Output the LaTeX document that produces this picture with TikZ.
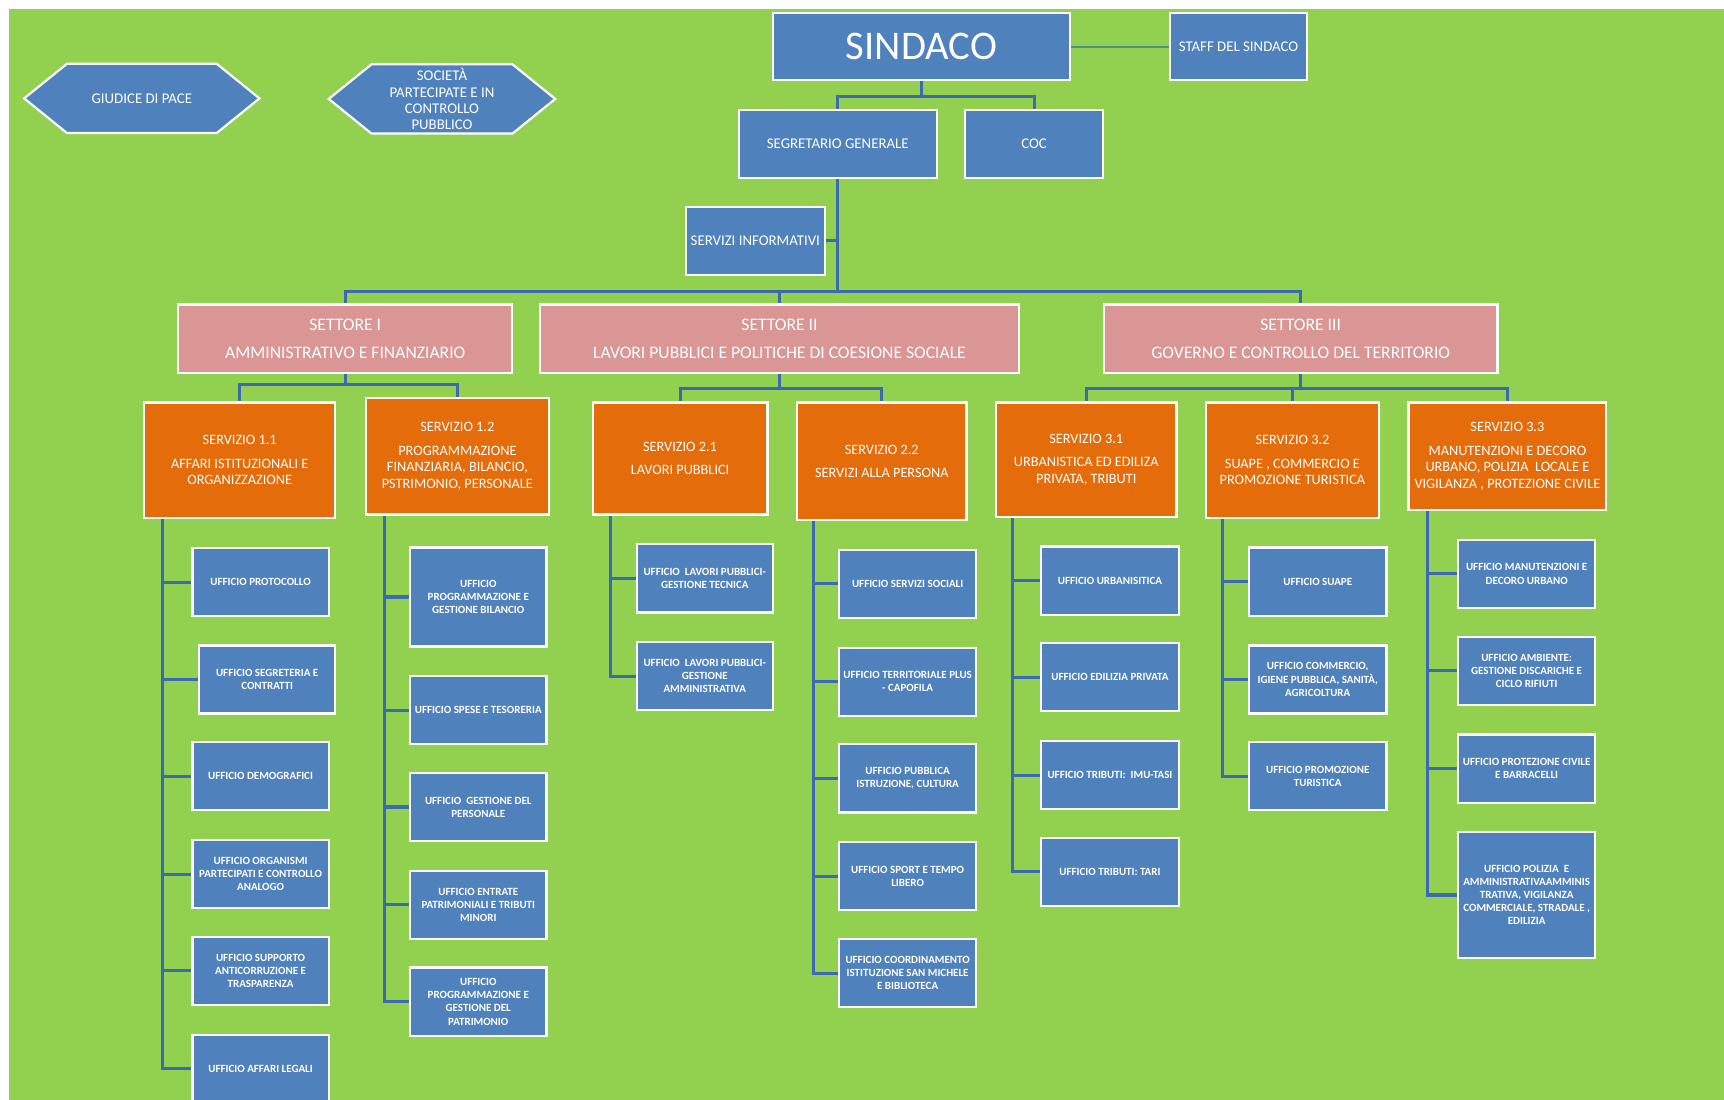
\documentclass[tikz,border=0pt]{standalone}
\usepackage{fontspec}
\setmainfont{Carlito}
\usepackage{tikz}
\usetikzlibrary{shapes.symbols}

\definecolor{bggreen}{RGB}{146,208,80}
\definecolor{ublue}{RGB}{79,129,189}
\definecolor{spink}{RGB}{217,150,148}
\definecolor{sorange}{RGB}{228,108,10}
\definecolor{cblue}{RGB}{62,104,178}
\definecolor{staffline}{RGB}{84,140,150}

\pgfdeclarelayer{sfondo}
\pgfdeclarelayer{linee}
\pgfsetlayers{sfondo,linee,main}

\tikzset{
  box/.style={draw=white, line width=2pt, fill=ublue, text=white, align=center, inner sep=0.5pt},
  topbox/.style={box, font=\fontsize{13.5}{14.7}\selectfont},
  hexa/.style={topbox, shape=signal, signal to=west and east, signal pointer angle=78},
  sett/.style={box, fill=spink, minimum height=62, font=\fontsize{16}{25}\selectfont},
  serv/.style={box, fill=sorange, font=\fontsize{13}{15}\selectfont},
  uff/.style={box, minimum width=124, minimum height=62, font=\fontsize{10}{12}\selectfont\bfseries},
  conn/.style={draw=cblue, line width=2.8pt},
}

\begin{document}
\begin{tikzpicture}[x=1pt,y=-1pt]
\useasboundingbox (0,0) rectangle (1568,1000);
\begin{pgfonlayer}{sfondo}
\fill[white] (0,0) rectangle (1568,1000);
\fill[bggreen] (8,8) rectangle (1568,1000);
\end{pgfonlayer}

% Vertice
\node[hexa, minimum width=214, minimum height=63] (giudice) at (129,89.5) {GIUDICE DI PACE};
\node[hexa, minimum width=206, minimum height=63] (societa) at (402,90) {SOCIETÀ\\PARTECIPATE E IN\\CONTROLLO\\PUBBLICO};
\node[box, minimum width=270, minimum height=61, font=\fontsize{37}{40}\selectfont] (sindaco) at (838,42.5) {SINDACO};
\node[topbox, minimum width=125, minimum height=61] (staff) at (1126.5,42.5) {STAFF DEL SINDACO};
\node[topbox, minimum width=180, minimum height=62] (segretario) at (762,131) {SEGRETARIO GENERALE};
\node[topbox, minimum width=125, minimum height=62] (coc) at (940.5,131) {COC};
\node[topbox, minimum width=126, minimum height=62] (informativi) at (687,219) {SERVIZI INFORMATIVI};

% Settori
\node[sett, minimum width=304] (set1) at (314,308) {SETTORE I\\AMMINISTRATIVO E FINANZIARIO};
\node[sett, minimum width=436] (set2) at (709,308) {SETTORE II\\LAVORI PUBBLICI E POLITICHE DI COESIONE SOCIALE};
\node[sett, minimum width=358] (set3) at (1183,308) {SETTORE III\\GOVERNO E CONTROLLO DEL TERRITORIO};

% Servizi
\node[serv, minimum width=174, minimum height=105] (s11) at (218,418.5) {SERVIZIO 1.1\\[6pt]AFFARI ISTITUZIONALI E\\ORGANIZZAZIONE};
\node[serv, minimum width=166, minimum height=106] (s12) at (416,415) {SERVIZIO 1.2\\[6pt]PROGRAMMAZIONE\\FINANZIARIA, BILANCIO,\\PSTRIMONIO, PERSONALE};
\node[serv, minimum width=159, minimum height=102] (s21) at (618.5,417) {SERVIZIO 2.1\\[6pt]LAVORI PUBBLICI};
\node[serv, minimum width=154, minimum height=107] (s22) at (802,419.5) {SERVIZIO 2.2\\[6pt]SERVIZI ALLA PERSONA};
\node[serv, minimum width=164, minimum height=104] (s31) at (988,418) {SERVIZIO 3.1\\[6pt]URBANISTICA ED EDILIZA\\PRIVATA, TRIBUTI};
\node[serv, minimum width=157, minimum height=105] (s32) at (1175.5,418.5) {SERVIZIO 3.2\\[6pt]SUAPE , COMMERCIO E\\PROMOZIONE TURISTICA};
\node[serv, minimum width=180, minimum height=98] (s33) at (1371,415) {SERVIZIO 3.3\\[6pt]MANUTENZIONI E DECORO\\URBANO, POLIZIA\ \ LOCALE E\\VIGILANZA , PROTEZIONE CIVILE};

% Uffici servizio 1.1
\node[uff] (u11a) at (237,529.5) {UFFICIO PROTOCOLLO};
\node[uff] (u11b) at (243,618) {UFFICIO SEGRETERIA E\\CONTRATTI};
\node[uff] (u11c) at (237,706) {UFFICIO DEMOGRAFICI};
\node[uff] (u11d) at (237,795) {UFFICIO ORGANISMI\\PARTECIPATI E CONTROLLO\\ANALOGO};
\node[uff] (u11e) at (237,883) {UFFICIO SUPPORTO\\ANTICORRUZIONE E\\TRASPARENZA};
\node[uff] (u11f) at (237,972) {UFFICIO AFFARI LEGALI};
% Uffici servizio 1.2
\node[uff, minimum height=90] (u12a) at (435,543) {UFFICIO\\PROGRAMMAZIONE E\\GESTIONE BILANCIO};
\node[uff] (u12b) at (435,646) {UFFICIO SPESE E TESORERIA};
\node[uff] (u12c) at (435,734) {UFFICIO\ \ GESTIONE DEL\\PERSONALE};
\node[uff] (u12d) at (435,823) {UFFICIO ENTRATE\\PATRIMONIALI E TRIBUTI\\MINORI};
\node[uff] (u12e) at (435,911) {UFFICIO\\PROGRAMMAZIONE E\\GESTIONE DEL\\PATRIMONIO};
% Uffici servizio 2.1
\node[uff] (u21a) at (641,526) {UFFICIO\ \ LAVORI PUBBLICI-\\GESTIONE TECNICA};
\node[uff] (u21b) at (641,615) {UFFICIO\ \ LAVORI PUBBLICI-\\GESTIONE\\AMMINISTRATIVA};
% Uffici servizio 2.2
\node[uff, minimum width=125] (u22a) at (825.5,531) {UFFICIO SERVIZI SOCIALI};
\node[uff, minimum width=125] (u22b) at (825.5,620) {UFFICIO TERRITORIALE PLUS\\- CAPOFILA};
\node[uff, minimum width=125] (u22c) at (825.5,708) {UFFICIO PUBBLICA\\ISTRUZIONE, CULTURA};
\node[uff, minimum width=125] (u22d) at (825.5,797) {UFFICIO SPORT E TEMPO\\LIBERO};
\node[uff, minimum width=125] (u22e) at (825.5,885) {UFFICIO COORDINAMENTO\\ISTITUZIONE SAN MICHELE\\E BIBLIOTECA};
% Uffici servizio 3.1
\node[uff, minimum width=125] (u31a) at (1009.5,528) {UFFICIO URBANISITICA};
\node[uff, minimum width=125] (u31b) at (1009.5,616) {UFFICIO EDILIZIA PRIVATA};
\node[uff, minimum width=125] (u31c) at (1009.5,705) {UFFICIO TRIBUTI:\ \ IMU-TASI};
\node[uff, minimum width=125] (u31d) at (1009.5,793) {UFFICIO TRIBUTI: TARI};
% Uffici servizio 3.2
\node[uff, minimum width=125] (u32a) at (1198.5,529) {UFFICIO SUAPE};
\node[uff, minimum width=125] (u32b) at (1198.5,618) {UFFICIO COMMERCIO,\\IGIENE PUBBLICA, SANITÀ,\\AGRICOLTURA};
\node[uff, minimum width=125] (u32c) at (1198.5,706) {UFFICIO PROMOZIONE\\TURISTICA};
% Uffici servizio 3.3
\node[uff, minimum width=125] (u33a) at (1388.5,522) {UFFICIO MANUTENZIONI E\\DECORO URBANO};
\node[uff, minimum width=125] (u33b) at (1388.5,610) {UFFICIO AMBIENTE:\\GESTIONE DISCARICHE E\\CICLO RIFIUTI};
\node[uff, minimum width=125] (u33c) at (1388.5,699) {UFFICIO PROTEZIONE CIVILE\\E BARRACELLI};
\node[uff, minimum width=125, minimum height=114] (u33d) at (1388.5,814) {UFFICIO POLIZIA\ \ E\\AMMINISTRATIVAAMMINIS\\TRATIVA, VIGILANZA\\COMMERCIALE, STRADALE ,\\EDILIZIA};

% Connettori
\begin{pgfonlayer}{linee}
\draw[draw=staffline, line width=2pt] (sindaco.east) -- (staff.west);
\draw[conn] (sindaco.south) -- ++(0,14) -| (segretario.north);
\draw[conn] (sindaco.south) -- ++(0,14) -| (coc.north);
\draw[conn] (informativi.east) -- (informativi.east -| segretario.south);
\foreach \s in {set1,set2,set3}
  \draw[conn] (segretario.south) -- ++(0,102) -| (\s.north);
\foreach \s in {s11,s12}
  \draw[conn] (set1.south) -- ++(0,10) -| (\s.north);
\foreach \s in {s21,s22}
  \draw[conn] (set2.south) -- ++(0,13) -| (\s.north);
\foreach \s in {s31,s32,s33}
  \draw[conn] (set3.south) -- ++(0,13) -| (\s.north);
\foreach \u in {u11a,u11b,u11c,u11d,u11e,u11f}
  \draw[conn] ([xshift=18]s11.south west) |- (\u.west);
\foreach \u in {u12a,u12b,u12c,u12d,u12e}
  \draw[conn] ([xshift=18]s12.south west) |- (\u.west);
\foreach \u in {u21a,u21b}
  \draw[conn] ([xshift=17]s21.south west) |- (\u.west);
\foreach \u in {u22a,u22b,u22c,u22d,u22e}
  \draw[conn] ([xshift=16]s22.south west) |- (\u.west);
\foreach \u in {u31a,u31b,u31c,u31d}
  \draw[conn] ([xshift=16]s31.south west) |- (\u.west);
\foreach \u in {u32a,u32b,u32c}
  \draw[conn] ([xshift=16]s32.south west) |- (\u.west);
\foreach \u in {u33a,u33b,u33c,u33d}
  \draw[conn] ([xshift=18]s33.south west) |- (\u.west);
\end{pgfonlayer}

\end{tikzpicture}
\end{document}
